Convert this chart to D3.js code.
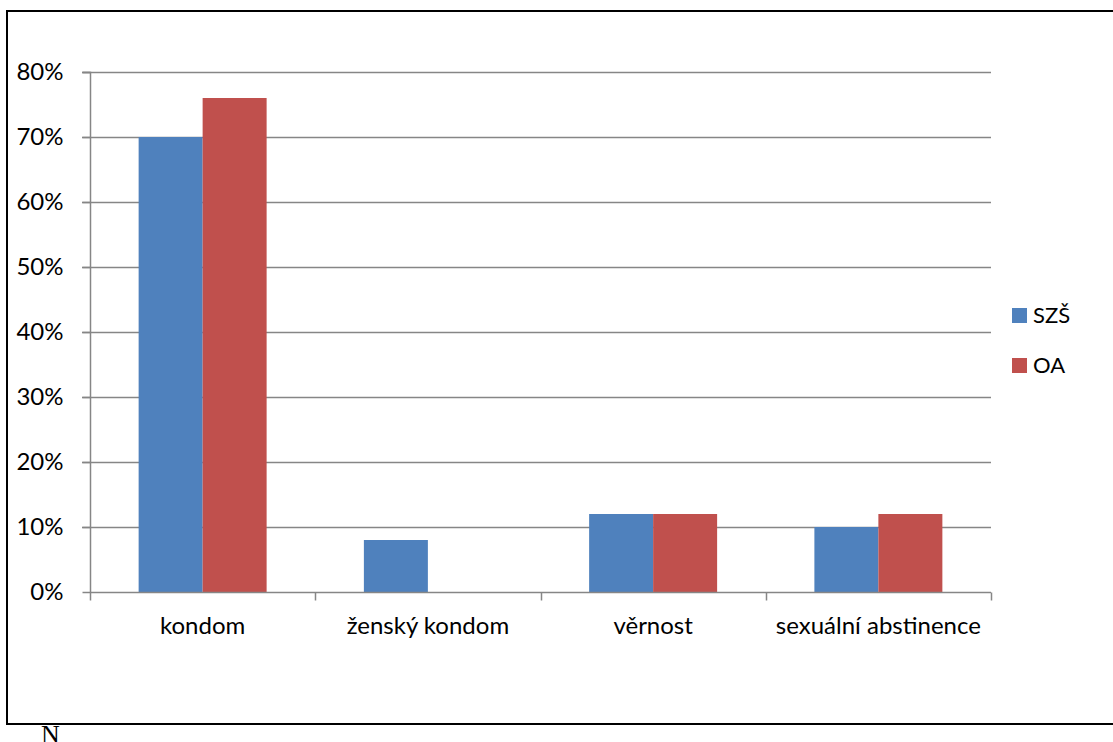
<!DOCTYPE html>
<html>
<head>
<meta charset="utf-8">
<script src="https://cdn.jsdelivr.net/npm/d3@7"></script>
<style>
  html, body { margin: 0; padding: 0; background: #fff; }
  svg { display: block; }
</style>
</head>
<body>
<svg id="chart" width="1113" height="742"></svg>
<script>
// Contraception methods named by students of two schools
const categories = ["kondom", "ženský kondom", "věrnost", "sexuální abstinence"];
const seriesNames = ["SZŠ", "OA"];
const valuesSZS = [0.70, 0.08, 0.12, 0.10];
const valuesOA = [0.76, 0.00, 0.12, 0.12];
const yTicks = [0, 0.1, 0.2, 0.3, 0.4, 0.5, 0.6, 0.7, 0.8];
const colors = ["#4f81bd", "#c0504d"];

const svg = d3.select("#chart");
const font = "Lato, 'Open Sans', sans-serif";
const fontSize = 24;

// outer frame (right edge runs past the page)
svg.append("path")
  .attr("d", "M1120,11 H7 V724 H1120")
  .attr("fill", "none")
  .attr("stroke", "#000")
  .attr("stroke-width", 2);

const plot = { left: 90, right: 991, top: 72, bottom: 592 };

const x = d3.scaleBand().domain(categories).range([plot.left, plot.right]).paddingInner(0).paddingOuter(0);
const inner = d3.scaleBand().domain(seriesNames).range([0, x.bandwidth()]).paddingInner(0).paddingOuter(0.76);
const y = d3.scaleLinear().domain([0, 0.8]).range([plot.bottom, plot.top]);

const axisColor = "#868686";

// horizontal gridlines with small left ticks
svg.append("g").selectAll("line").data(yTicks.filter(d => d > 0)).join("line")
  .attr("x1", plot.left - 8).attr("x2", plot.right)
  .attr("y1", d => Math.round(y(d)) + 0.5).attr("y2", d => Math.round(y(d)) + 0.5)
  .attr("stroke", axisColor).attr("stroke-width", 1.5);

// bars
const data = categories.map((c, i) => ({ cat: c, vals: [valuesSZS[i], valuesOA[i]] }));
const groups = svg.append("g").selectAll("g").data(data).join("g")
  .attr("transform", d => `translate(${x(d.cat)},0)`);
groups.selectAll("rect").data(d => d.vals.map((v, j) => ({ v, s: seriesNames[j], j })))
  .join("rect")
  .filter(d => d.v > 0)
  .attr("x", d => inner(d.s))
  .attr("width", inner.bandwidth())
  .attr("y", d => y(d.v))
  .attr("height", d => y(0) - y(d.v))
  .attr("fill", d => colors[d.j]);

// y axis via d3.axisLeft
const yAxis = svg.append("g")
  .attr("transform", `translate(${plot.left + 0.5},0)`)
  .call(d3.axisLeft(y).tickValues(yTicks).tickFormat(d3.format(".0%")).tickSize(8).tickPadding(19));
yAxis.select(".domain").attr("stroke", axisColor).attr("stroke-width", 1.5).attr("d", `M-8,${plot.top + 0.5}H0V${plot.bottom + 0.5}`);
yAxis.selectAll(".tick line").attr("stroke", axisColor).attr("stroke-width", 1.5);
yAxis.selectAll("text").attr("font-family", font).attr("font-size", fontSize).attr("fill", "#000");

// x axis via d3.axisBottom, ticks at category boundaries
const boundaries = categories.map(c => x(c)).concat([plot.right]);
const xAxis = svg.append("g")
  .attr("transform", `translate(0,${plot.bottom + 0.5})`)
  .call(d3.axisBottom(x).tickSize(0).tickPadding(24));
xAxis.select(".domain").attr("stroke", axisColor).attr("stroke-width", 1.5).attr("d", `M${plot.left},0H${plot.right}`);
xAxis.selectAll("text").attr("font-family", font).attr("font-size", fontSize).attr("fill", "#000");
xAxis.append("g").selectAll("line").data(boundaries).join("line")
  .attr("x1", d => Math.round(d) + 0.5).attr("x2", d => Math.round(d) + 0.5)
  .attr("y1", 0).attr("y2", 8)
  .attr("stroke", axisColor).attr("stroke-width", 1.5);

// legend
const legend = svg.append("g").attr("transform", "translate(1012,308)");
const li = legend.selectAll("g").data(seriesNames).join("g")
  .attr("transform", (d, i) => `translate(0,${i * 50})`);
li.append("rect").attr("width", 15).attr("height", 15).attr("fill", (d, i) => colors[i]);
li.append("text").attr("x", 21).attr("y", 15).text(d => d)
  .attr("font-family", font).attr("font-size", 22).attr("fill", "#000");

// stray letter below the frame
svg.append("text").attr("x", 41).attr("y", 743).text("N")
  .attr("font-family", "'Liberation Serif', 'Times New Roman', serif")
  .attr("font-size", 26).attr("fill", "#000");
</script>
</body>
</html>
